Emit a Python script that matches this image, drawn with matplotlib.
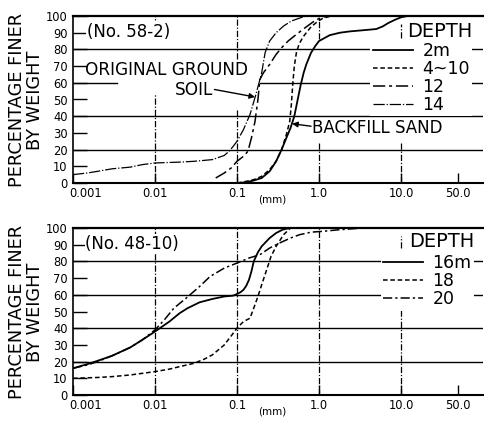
import matplotlib
matplotlib.use("Agg")
import matplotlib.pyplot as plt
from matplotlib.lines import Line2D
from matplotlib.ticker import NullLocator
from matplotlib.transforms import ScaledTranslation

# ---------------- Grain-size data, boring No. 58-2 ----------------
d_2m = [0.105, 0.13, 0.16, 0.2, 0.25, 0.3, 0.35, 0.4, 0.45, 0.5, 0.55, 0.6, 0.65,
        0.7, 0.8, 0.9, 1.0, 1.35, 1.8, 2.4, 3.5, 5.0, 6.0, 7.0, 8.5, 10, 12]
p_2m = [0, 0.5, 1.5, 3, 7, 13, 20, 27, 33, 40, 50, 59, 66,
        71, 78, 82, 85, 88.5, 90, 90.8, 91.5, 92.2, 93.8, 95.8, 97.8, 99.2, 100]

d_4_10 = [0.1, 0.13, 0.16, 0.2, 0.25, 0.3, 0.35, 0.4, 0.44, 0.46, 0.48, 0.5, 0.53,
          0.57, 0.63, 0.7, 0.8, 0.95, 1.1, 1.4]
p_4_10 = [0, 1, 2, 4, 8, 13, 20, 29, 37, 47, 60, 70, 78,
          83, 87, 90, 93.5, 96.5, 98.5, 100]

d_12 = [0.055, 0.07, 0.085, 0.1, 0.12, 0.136, 0.15, 0.166, 0.18, 0.19, 0.21, 0.25,
        0.3, 0.35, 0.42, 0.5, 0.6, 0.7, 0.85, 1.0, 1.25]
p_12 = [3, 6, 9, 13, 16, 19, 27, 37, 50, 62, 66, 71,
        77, 81, 85, 88, 91, 93.5, 96.5, 98.5, 100]

d_14 = [0.001, 0.0015, 0.002, 0.003, 0.005, 0.007, 0.01, 0.02, 0.03, 0.05, 0.07,
        0.08, 0.09, 0.1, 0.12, 0.144, 0.17, 0.2, 0.22, 0.25, 0.3, 0.37, 0.46, 0.6, 0.7]
p_14 = [5, 6, 7, 8.5, 9.5, 11, 12, 12.5, 13, 14, 16.5,
        19, 22, 25, 32, 41, 53, 66, 78, 85, 90, 94, 97, 99, 100]

# ---------------- Grain-size data, boring No. 48-10 ----------------
d_16m = [0.001, 0.0015, 0.002, 0.003, 0.005, 0.007, 0.01, 0.015, 0.02, 0.025, 0.035,
         0.05, 0.07, 0.09, 0.1, 0.11, 0.12, 0.13, 0.14, 0.15, 0.16, 0.18, 0.2, 0.25,
         0.3, 0.36, 0.44]
p_16m = [16, 18.5, 20.5, 23.5, 28.5, 33, 38, 44, 49, 52, 55.5,
         57.5, 59, 59.5, 60.5, 61.5, 63, 65.5, 69, 74, 80, 85.5, 89, 94,
         97, 99, 100]

d_18 = [0.001, 0.002, 0.003, 0.005, 0.01, 0.015, 0.02, 0.03, 0.04, 0.05, 0.07, 0.09,
        0.1, 0.12, 0.144, 0.16, 0.18, 0.2, 0.23, 0.26, 0.3, 0.37, 0.45]
p_18 = [10, 10.5, 11, 12, 14, 15.5, 17, 19, 21.5, 24, 30, 37,
        40, 44, 46, 52, 59, 66, 75, 83, 89, 96, 100]

d_20 = [0.001, 0.0015, 0.002, 0.003, 0.005, 0.007, 0.01, 0.013, 0.017, 0.024, 0.035,
        0.047, 0.07, 0.1, 0.14, 0.19, 0.25, 0.33, 0.45, 0.58, 0.8, 1.1, 1.8, 2.5, 3.5]
p_20 = [16, 18, 20, 23.5, 28.5, 33, 39, 45, 52, 58, 65,
        71, 76, 79, 82, 84, 88, 91, 94, 96, 97.5, 98, 99, 99.5, 100]

x_ticks = [0.001, 0.01, 0.1, 1.0, 10.0, 50.0]
x_tick_labels = ["0.001", "0.01", "0.1", "1.0", "10.0", "50.0"]
y_ticks = list(range(0, 101, 10))

top_series = [("2m", d_2m, p_2m), ("4~10", d_4_10, p_4_10),
              ("12", d_12, p_12), ("14", d_14, p_14)]
bottom_series = [("16m", d_16m, p_16m), ("18", d_18, p_18), ("20", d_20, p_20)]

# ---------------- styles ----------------
K = "black"
plt.rcParams["font.family"] = "DejaVu Sans"
style_top = {
    "2m": dict(ls="-", lw=1.3),
    "4~10": dict(ls=(0, (3, 1.8)), lw=1.1),
    "12": dict(ls=(0, (8, 2.5, 2, 2.5)), lw=1.1),
    "14": dict(ls=(0, (9, 1.5, 1, 1.5)), lw=0.9),
}
style_bottom = {
    "16m": dict(ls="-", lw=1.3),
    "18": dict(ls=(0, (3, 1.8)), lw=1.1),
    "20": dict(ls=(0, (6, 2, 1.5, 2)), lw=1.1),
}
vgrid = dict(color=K, lw=0.9, ls=(0, (5, 1.5, 1, 1.5)))
hgrid = dict(color=K, lw=1.0)

W, H = 484, 423
fig = plt.figure(figsize=(W / 100, H / 100), dpi=100)


def rect(left, top, right, bottom):
    return [left / W, 1 - bottom / H, (right - left) / W, (bottom - top) / H]


ax1 = fig.add_axes(rect(73, 16, 483, 183))
ax2 = fig.add_axes(rect(73, 228, 483, 395))

for ax, yc in ((ax1, 100), (ax2, 312)):
    ax.set_xscale("log")
    ax.set_xlim(1e-3, 1e2)
    ax.set_ylim(0, 100)
    ax.xaxis.set_minor_locator(NullLocator())
    ax.set_xticks(x_ticks, x_tick_labels)
    ax.set_yticks(y_ticks, [str(v) for v in y_ticks])
    ax.tick_params(axis="x", direction="in", length=7, width=1, pad=3,
                   labelsize=8.3, color=K)
    ax.tick_params(axis="y", direction="in", length=10, width=1, pad=4,
                   labelsize=8.3, color=K)
    # first x label sits to the right of the corner "0"
    first = ax.get_xticklabels()[0]
    first.set_horizontalalignment("left")
    first.set_transform(first.get_transform() +
                        ScaledTranslation(-4 / 100, 0, fig.dpi_scale_trans))
    ax.spines["right"].set_visible(False)
    ax.spines["top"].set_linewidth(1.6)
    ax.spines["bottom"].set_linewidth(1.5)
    ax.spines["left"].set_linewidth(1.2)
    ax.text(0.485, -0.1, "(mm)", transform=ax.transAxes, ha="center",
            va="center", fontsize=7.5)
    fig.text(26 / W, 1 - yc / H, "PERCENTAGE FINER\nBY WEIGHT", rotation=90,
             ha="center", va="center", fontsize=12.8, linespacing=1.0)

# ---------------- grid lines, top panel ----------------
for y in (20, 40, 80):
    ax1.axhline(y, **hgrid, zorder=1)
ax1.axhline(60, xmin=0, xmax=0.107, **hgrid, zorder=1)
ax1.axhline(60, xmin=0.456, xmax=1, **hgrid, zorder=1)
for x, spans in [(0.01, [(0, 0.53), (0.93, 1)]),
                 (0.1, [(0, 0.44), (0.74, 1)]),
                 (1.0, [(0, 0.24), (0.86, 1)]),
                 (10.0, [(0, 0.24), (0.87, 0.95)])]:
    for a, b in spans:
        ax1.axvline(x, ymin=a, ymax=b, **vgrid, zorder=1)

# ---------------- grid lines, bottom panel ----------------
for y in (20, 40, 60, 80):
    ax2.axhline(y, **hgrid, zorder=1)
for x in (0.01, 0.1, 1.0):
    ax2.axvline(x, **vgrid, zorder=1)
ax2.axvline(10.0, ymin=0, ymax=0.53, **vgrid, zorder=1)
ax2.axvline(10.0, ymin=0.88, ymax=0.95, **vgrid, zorder=1)

# ---------------- curves ----------------
for name, d, p in top_series:
    ax1.plot(d, p, color=K, zorder=3, **style_top[name])
for name, d, p in bottom_series:
    ax2.plot(d, p, color=K, zorder=3, **style_bottom[name])


# ---------------- legends ----------------
def depth_legend(ax, styles, anchor):
    handles = [Line2D([], [], color=K, **styles[n]) for n in styles]
    leg = ax.legend(handles, list(styles), loc="upper left",
                    bbox_to_anchor=anchor, bbox_transform=ax.transAxes,
                    fontsize=12.5, handlelength=2.3, handletextpad=0.55,
                    labelspacing=0.0, borderpad=0.15, borderaxespad=0,
                    frameon=True, fancybox=False, framealpha=1)
    leg.get_frame().set_facecolor("white")
    leg.get_frame().set_edgecolor("none")
    leg.set_zorder(5)
    return leg


depth_legend(ax1, style_top, (0.725, 0.862))
depth_legend(ax2, style_bottom, (0.75, 0.858))
ax1.text(11.8, 91, "DEPTH", ha="left", va="center", fontsize=14, zorder=6)
ax2.text(12.5, 92, "DEPTH", ha="left", va="center", fontsize=14, zorder=6)

# ---------------- annotations ----------------
ax1.text(0.00148, 90.5, "(No. 58-2)", ha="left", va="center", fontsize=12,
         zorder=6, bbox=dict(fc="white", ec="none", pad=0.5))
ax2.text(0.00142, 90.5, "(No. 48-10)", ha="left", va="center", fontsize=12,
         zorder=6, bbox=dict(fc="white", ec="none", pad=0.5))
ax1.text(0.0014, 67.5, "ORIGINAL GROUND", ha="left", va="center",
         fontsize=12.2, zorder=6)
ax1.text(0.051, 55.5, "SOIL", ha="right", va="center", fontsize=12.2, zorder=6)
ax1.annotate("", xy=(0.166, 51.5), xytext=(0.053, 56),
             arrowprops=dict(arrowstyle="-|>", color=K, lw=1.0,
                             mutation_scale=8, shrinkA=0, shrinkB=0),
             zorder=6)
ax1.text(0.82, 33, "BACKFILL SAND", ha="left", va="center", fontsize=12,
         zorder=6, bbox=dict(fc="white", ec="none", pad=0.5))
ax1.annotate("", xy=(0.47, 35.5), xytext=(0.8, 34),
             arrowprops=dict(arrowstyle="-|>", color=K, lw=1.0,
                             mutation_scale=8, shrinkA=0, shrinkB=0),
             zorder=6)

fig.savefig("out.png", dpi=100)
